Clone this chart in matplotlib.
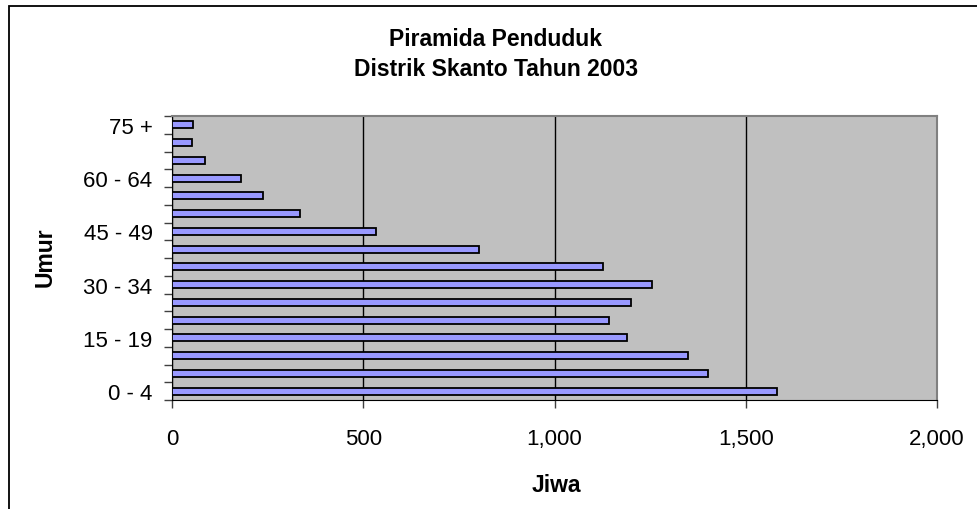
import matplotlib.pyplot as plt
from matplotlib.patches import Rectangle
from matplotlib.ticker import FuncFormatter, FixedLocator
import numpy as np

plt.rcParams['font.family'] = ['Liberation Sans', 'DejaVu Sans']

# Datos
umur = ['0 - 4', '5 - 9', '10 - 14', '15 - 19', '20 - 24', '25 - 29', '30 - 34', '35 - 39',
        '40 - 44', '45 - 49', '50 - 54', '55 - 59', '60 - 64', '65 - 69', '70 - 74', '75 +']
jiwa = [1583, 1400, 1350, 1189, 1142, 1200, 1256, 1127, 803, 534, 335, 238, 180, 85, 51, 54]

fig = plt.figure(figsize=(9.78, 5.10), dpi=100)
ax = fig.add_axes([172/978, 1 - 401/510, 765/978, 284/510])
ax.set_facecolor('#C0C0C0')

y = np.arange(len(umur))
ax.barh(y, jiwa, height=0.4, color='#9999FF', edgecolor='black', linewidth=1.3, zorder=3)

ax.set_xlim(0, 2000)
ax.set_ylim(-0.5, len(umur) - 0.5)
ax.set_xticks([0, 500, 1000, 1500, 2000])
ax.xaxis.set_major_formatter(FuncFormatter(lambda v, p: f'{int(v):,}'))
ax.grid(axis='x', color='black', linewidth=1, zorder=1)

# Marcas en los límites de categoría, etiquetas cada 3 categorías
ax.yaxis.set_major_locator(FixedLocator(np.arange(-0.5, len(umur), 1.0)))
ax.set_yticklabels([])
ax.yaxis.set_minor_locator(FixedLocator(y[::3]))
ax.set_yticklabels([umur[i] for i in y[::3]], minor=True)
ax.tick_params(axis='y', which='major', length=6, width=1, direction='out', color='#404040')
ax.tick_params(axis='y', which='minor', length=0, pad=14, labelsize=16)
ax.tick_params(axis='x', length=6, width=1, direction='out', pad=14, labelsize=16, color='#404040')

for s in ['top', 'right']:
    ax.spines[s].set_color('#808080')
    ax.spines[s].set_linewidth(1.5)
ax.spines['left'].set_color('black')
ax.spines['bottom'].set_color('black')

ax.set_xlabel('Jiwa', fontsize=16.5, fontweight='bold', va='center')
ax.xaxis.set_label_coords(0.503, -0.296)
ax.set_ylabel('Umur', fontsize=16.5, fontweight='bold', va='center')
ax.yaxis.set_label_coords(-0.166, 0.507)

fig.text(496/978, 1 - 40/510, 'Piramida Penduduk', ha='center', va='center',
         fontsize=16.5, fontweight='bold')
fig.text(496/978, 1 - 70/510, 'Distrik Skanto Tahun 2003', ha='center', va='center',
         fontsize=16.5, fontweight='bold')

# Marco exterior del gráfico
fig.patches.append(Rectangle((9/978, -0.1), 2, 1.1 - 6.5/510, transform=fig.transFigure,
                             fill=False, edgecolor='black', linewidth=1.3))

fig.savefig('out.png', dpi=100)
